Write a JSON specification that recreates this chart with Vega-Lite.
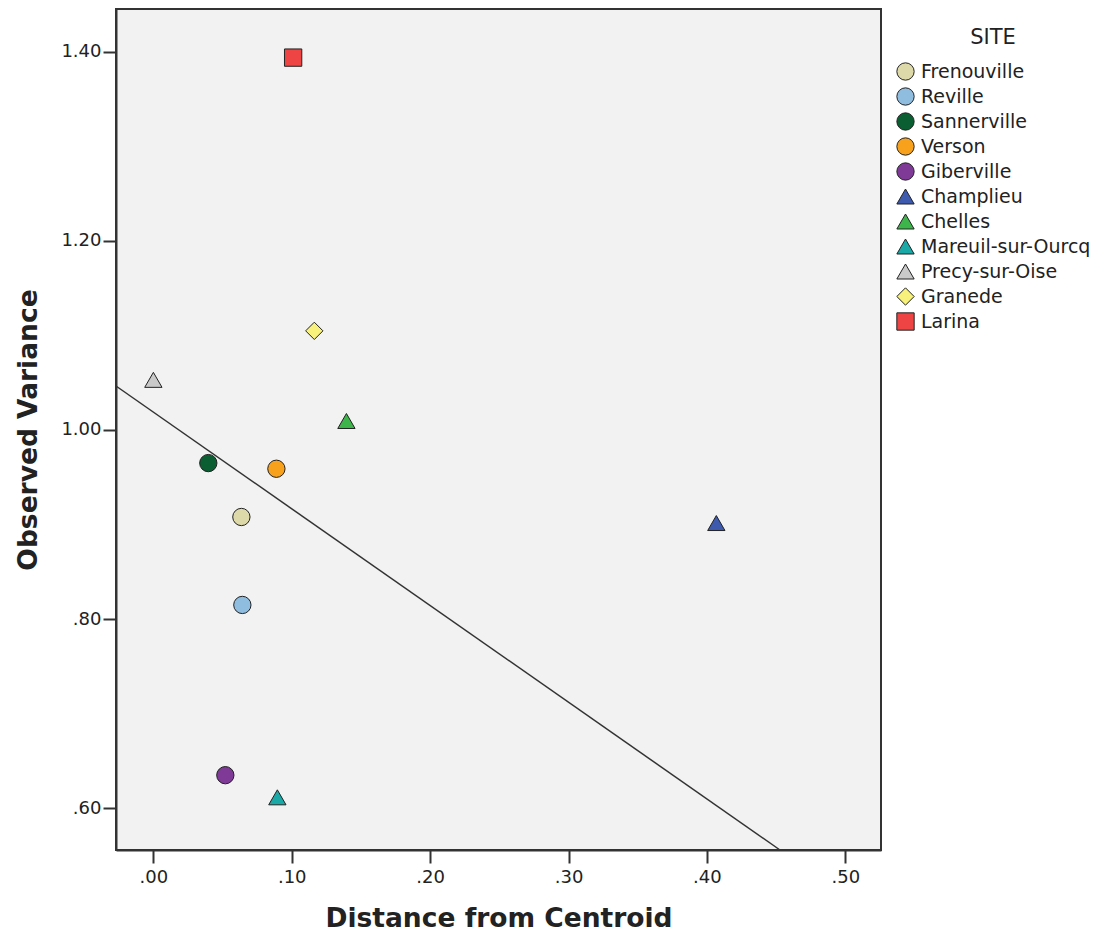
{
  "$schema": "https://vega.github.io/schema/vega-lite/v6.json",
  "autosize": {"type": "none"},
  "padding": {"left": 116, "top": 9, "right": 233, "bottom": 89},
  "width": 765,
  "height": 841,
  "background": "white",
  "config": {
    "font": "DejaVu Sans",
    "view": {"fill": "#f2f2f2", "stroke": "#333333", "strokeWidth": 2},
    "axis": {
      "grid": false,
      "labelFont": "DejaVu Sans",
      "labelFontSize": 18,
      "labelColor": "#222222",
      "labelPadding": 3,
      "tickColor": "#333333",
      "tickSize": 13,
      "tickWidth": 2,
      "domainColor": "#333333",
      "domainWidth": 2,
      "titleFont": "DejaVu Sans",
      "titleFontSize": 26.5,
      "titleFontWeight": "bold",
      "titleColor": "#222222"
    },
    "legend": {
      "titleFont": "DejaVu Sans",
      "titleFontSize": 21,
      "titleFontWeight": "normal",
      "titleColor": "#222222",
      "labelFont": "DejaVu Sans",
      "labelFontSize": 19,
      "labelColor": "#222222",
      "labelLimit": 300
    }
  },
  "datasets": {
    "sites": [
      {"site": "Frenouville", "distance": 0.0636, "variance": 0.908},
      {"site": "Reville", "distance": 0.0643, "variance": 0.815},
      {"site": "Sannerville", "distance": 0.0397, "variance": 0.965},
      {"site": "Verson", "distance": 0.0889, "variance": 0.959},
      {"site": "Giberville", "distance": 0.052, "variance": 0.635},
      {"site": "Champlieu", "distance": 0.4068, "variance": 0.9016},
      {"site": "Chelles", "distance": 0.1395, "variance": 1.0095},
      {"site": "Mareuil-sur-Ourcq", "distance": 0.0896, "variance": 0.6116},
      {"site": "Precy-sur-Oise", "distance": 0.0, "variance": 1.053},
      {"site": "Granede", "distance": 0.1163, "variance": 1.1048},
      {"site": "Larina", "distance": 0.101, "variance": 1.3937}
    ],
    "fit": [
      {"distance": -0.027, "variance": 1.0465},
      {"distance": 0.4528, "variance": 0.5559}
    ]
  },
  "layer": [
    {
      "data": {"name": "fit"},
      "mark": {"type": "line", "color": "#333333", "strokeWidth": 1.5},
      "encoding": {
        "x": {"field": "distance", "type": "quantitative"},
        "y": {"field": "variance", "type": "quantitative"}
      }
    },
    {
      "data": {"name": "sites"},
      "mark": {"type": "point", "filled": true, "opacity": 1, "stroke": "#222222", "strokeWidth": 1},
      "encoding": {
        "x": {
          "field": "distance",
          "type": "quantitative",
          "title": "Distance from Centroid",
          "scale": {"domain": [-0.027, 0.5258], "nice": false, "zero": false},
          "axis": {
            "values": [0, 0.1, 0.2, 0.3, 0.4, 0.5],
            "labelExpr": "replace(format(datum.value, '.2f'), '0.', '.')",
            "labelPadding": 5,
            "titlePadding": 19
          }
        },
        "y": {
          "field": "variance",
          "type": "quantitative",
          "title": "Observed Variance",
          "scale": {"domain": [0.5559, 1.4451], "nice": false, "zero": false},
          "axis": {
            "values": [0.6, 0.8, 1.0, 1.2, 1.4],
            "labelExpr": "replace(format(datum.value, '.2f'), '0.', '.')",
            "labelPadding": 2,
            "titlePadding": 18
          }
        },
        "color": {
          "field": "site",
          "type": "nominal",
          "title": "SITE",
          "scale": {
            "domain": ["Frenouville", "Reville", "Sannerville", "Verson", "Giberville", "Champlieu", "Chelles", "Mareuil-sur-Ourcq", "Precy-sur-Oise", "Granede", "Larina"],
            "range": ["#ddd9a9", "#8fbde0", "#0b5e32", "#f7a11c", "#7e3a96", "#3d5aae", "#3db54a", "#1aa9a6", "#c9c9c9", "#f8f27c", "#ef4444"]
          },
          "legend": {
            "orient": "none",
            "legendX": 780,
            "legendY": 18,
            "columns": 1,
            "gridAlign": "all",
            "titleAnchor": "middle",
            "titlePadding": 14,
            "rowPadding": 2,
            "labelOffset": 6,
            "symbolSize": 280,
            "symbolStrokeColor": "#222222",
            "symbolStrokeWidth": 1
          }
        },
        "shape": {
          "field": "site",
          "type": "nominal",
          "title": "SITE",
          "scale": {
            "domain": ["Frenouville", "Reville", "Sannerville", "Verson", "Giberville", "Champlieu", "Chelles", "Mareuil-sur-Ourcq", "Precy-sur-Oise", "Granede", "Larina"],
            "range": ["circle", "circle", "circle", "circle", "circle", "triangle-up", "triangle-up", "triangle-up", "triangle-up", "diamond", "square"]
          }
        },
        "size": {
          "field": "site",
          "type": "nominal",
          "legend": null,
          "scale": {
            "domain": ["Frenouville", "Reville", "Sannerville", "Verson", "Giberville", "Champlieu", "Chelles", "Mareuil-sur-Ourcq", "Precy-sur-Oise", "Granede", "Larina"],
            "range": [300, 300, 300, 300, 300, 260, 260, 260, 260, 440, 240]
          }
        }
      }
    }
  ]
}
